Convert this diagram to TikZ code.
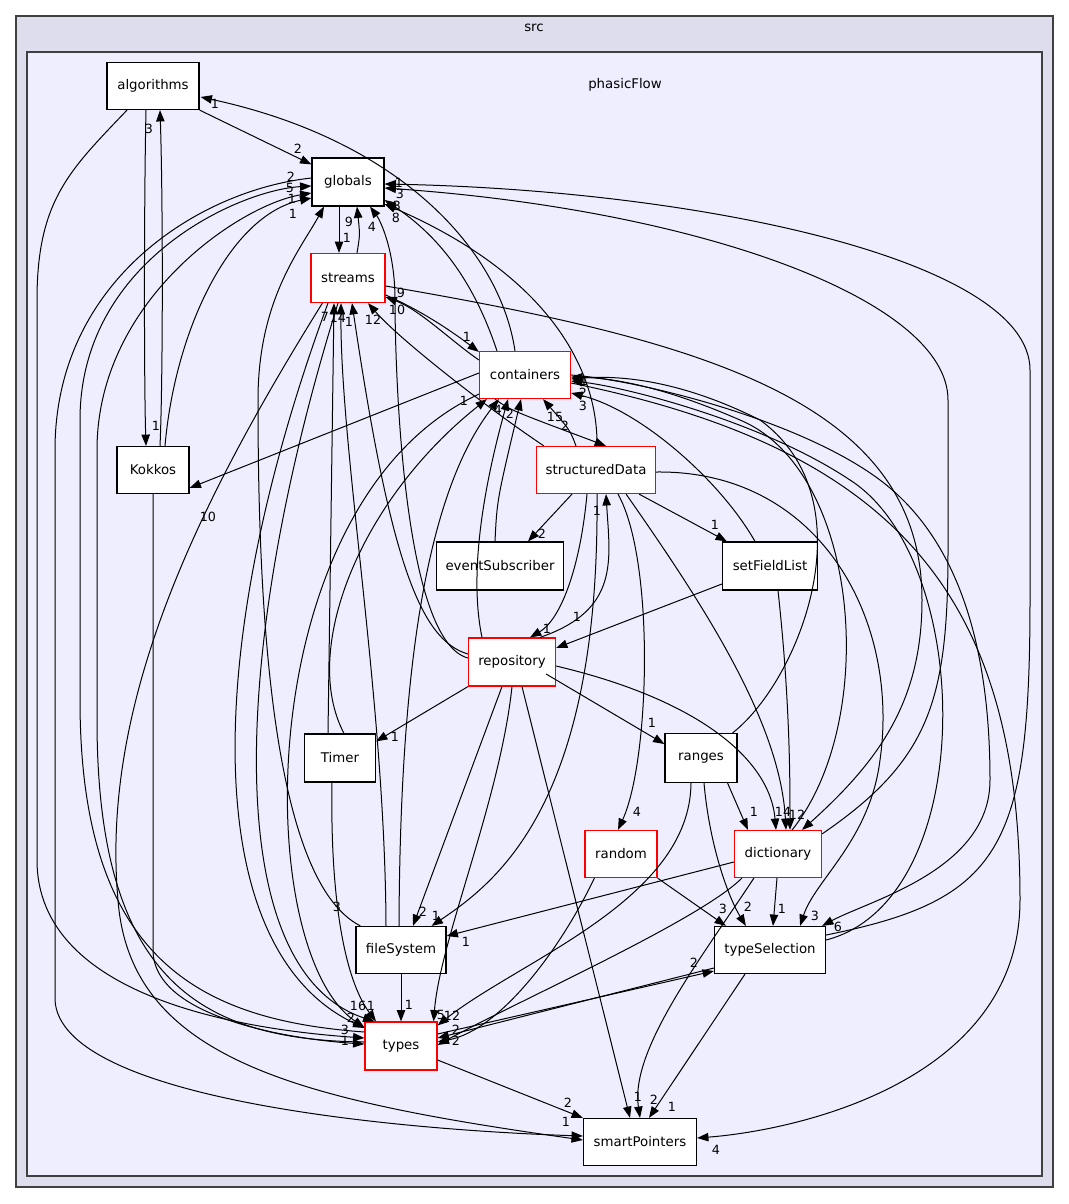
\documentclass[tikz,border=0pt]{standalone}
\usepackage{fontspec}
\setmainfont{DejaVu Sans}
\usetikzlibrary{arrows.meta,calc}
\definecolor{srcfill}{HTML}{DDDDEE}
\definecolor{pffill}{HTML}{EEEEFF}
\definecolor{bord}{HTML}{404040}
\tikzset{
  dirbox/.style={draw=black,fill=white,line width=0.9pt,inner sep=0pt,font=\fontsize{10}{12}\selectfont},
  redbox/.style={dirbox,draw=red},
  wh/.style 2 args={minimum width=0.75*#1 pt,minimum height=0.75*#2 pt},
  e/.style={draw=black,line width=0.75pt,-{Triangle[length=8.5pt,width=6.3pt]}},
  lbl/.style={font=\fontsize{9.5}{11}\selectfont,inner sep=0pt},
}
\begin{document}
\begin{tikzpicture}[x=0.75pt,y=-0.75pt]
\useasboundingbox (0,0) rectangle (1069,1204);
\fill[white] (0,0) rectangle (1069,1204);
\draw[fill=srcfill,draw=bord,line width=1.2pt] (16,16) rectangle (1053,1187);
\node[font=\fontsize{10}{12}\selectfont] (srclbl) at (534,28) {src};
\draw[fill=pffill,draw=bord,line width=1.2pt] (27,52) rectangle (1042,1176);
\node[font=\fontsize{10}{12}\selectfont] (pflbl) at (625,85) {phasicFlow};
% nodes
\node[dirbox,wh={92}{47}] (alg) at (153,86) {algorithms};
\node[dirbox,wh={72}{48}] (glob) at (348,182) {globals};
\node[redbox,wh={74}{49}] (strm) at (348,278) {streams};
\node[redbox,wh={91}{47}] (cont) at (525,375) {containers};
\node[redbox,wh={119}{47}] (sdat) at (596,470) {structuredData};
\node[dirbox,wh={127}{48}] (evt) at (500,566) {eventSubscriber};
\node[dirbox,wh={95}{48}] (sfl) at (770,566) {setFieldList};
\node[redbox,wh={87}{48}] (repo) at (512,662) {repository};
\node[dirbox,wh={72}{47}] (kok) at (153,470) {Kokkos};
\node[dirbox,wh={71}{48}] (timer) at (340,758) {Timer};
\node[dirbox,wh={72}{49}] (ranges) at (701,758) {ranges};
\node[redbox,wh={72}{47}] (random) at (621,854) {random};
\node[redbox,wh={87}{47}] (dict) at (778,854) {dictionary};
\node[dirbox,wh={90}{47}] (fs) at (401,950) {fileSystem};
\node[dirbox,wh={111}{47}] (tsel) at (770,950) {typeSelection};
\node[redbox,wh={72}{48}] (types) at (401,1046) {types};
\node[dirbox,wh={113}{47}] (sp) at (640,1142) {smartPointers};
% edges
\draw[e] (alg.south east) -- ($(glob.north west)+(0,7)$);
\draw[e] ($(alg.south)+(-7,0)$) .. controls (144,200) and (144,380) .. ($(kok.north)+(-7,0)$);
\draw[e] ($(kok.north)+(7,0)$) .. controls (163,380) and (163,200) .. ($(alg.south)+(7,0)$);
\draw[e] ($(alg.south)+(-26,0)$) .. controls (70,170) and (37,200) .. (37,300) -- (37,860) .. controls (37,1000) and (250,1030) .. ($(types.west)+(0,-8)$);
\draw[e] ($(cont.north)+(-10,0)$) .. controls (500,250) and (400,140) .. ($(alg.east)+(1,11)$);
\draw[e] ($(glob.south)+(-9,0)$) -- ($(strm.north)+(-9,0)$);
\draw[e] ($(strm.north)+(9,0)$) .. controls (360,235) .. ($(glob.south)+(9,0)$);
\draw[e] ($(kok.north)+(12,0)$) .. controls (175,330) and (230,215) .. ($(glob.west)+(0,16)$);
\draw[e] ($(types.west)+(0,-14)$) .. controls (200,1020) and (80,960) .. (80,700) -- (80,420) .. controls (80,260) and (240,190) .. ($(glob.west)+(0,4)$);
\draw[e] ($(types.west)+(0,-4)$) .. controls (200,1040) and (97,980) .. (97,720) -- (97,450) .. controls (97,300) and (240,205) .. ($(glob.west)+(0,11)$);
\draw[e] ($(fs.north west)+(5,0)$) .. controls (270,880) and (258,600) .. (258,400) .. controls (258,300) and (300,250) .. ($(glob.south)+(-24,0)$);
\draw[e] ($(repo.west)+(0,-4)$) .. controls (400,640) and (395,350) .. (395,300) .. controls (395,250) and (380,220) .. ($(glob.south)+(22,0)$);
\draw[e] ($(tsel.east)+(0,-15)$) .. controls (1000,900) and (1030,850) .. (1030,600) -- (1030,370) .. controls (1030,260) and (700,190) .. ($(glob.east)+(0,2)$);
\draw[e] ($(dict.north east)+(0,4)$) .. controls (930,760) and (948,700) .. (948,550) -- (948,400) .. controls (948,300) and (700,210) .. ($(glob.east)+(0,6)$);
\draw[e] ($(cont.north)+(-28,0)$) .. controls (470,270) and (430,230) .. ($(glob.east)+(0,18)$);
\draw[e] ($(sdat.north)+(1,0)$) .. controls (598,380) and (560,280) .. ($(glob.east)+(0,22)$);
\draw[e] ($(strm.east)+(0,17)$) .. controls (420,310) and (450,330) .. ($(cont.north west)+(0,1)$);
\draw[e] ($(cont.west)+(0,-15)$) .. controls (450,340) and (420,310) .. ($(strm.east)+(0,19)$);
\draw[e] ($(sdat.north west)+(8,0)$) .. controls (490,410) and (400,340) .. ($(strm.south)+(20,0)$);
\draw[e] ($(cont.west)+(0,-2)$) -- ($(kok.east)+(0,18)$);
\draw[e] ($(sfl.north)+(-15,0)$) .. controls (720,480) and (640,410) .. ($(cont.east)+(0,18)$);
\draw[e] ($(ranges.north east)+(-5,0)$) .. controls (800,680) and (870,500) .. (760,420) .. controls (680,380) and (620,375) .. ($(cont.east)+(0,4)$);
\draw[e] ($(dict.north east)+(-30,0)$) .. controls (880,720) and (860,470) .. (740,420) .. controls (660,385) and (610,378) .. ($(cont.east)+(0,2)$);
\draw[e] ($(tsel.east)+(0,-10)$) .. controls (980,900) and (975,560) .. (850,480) .. controls (760,420) and (620,386) .. ($(cont.east)+(0,6)$);
\draw[e] ($(cont.east)+(0,0)$) .. controls (640,380) and (800,420) .. (880,480) .. controls (960,540) and (990,650) .. (990,780) .. controls (990,870) and (870,900) .. ($(tsel.north east)+(-4,0)$);
\draw[e] ($(strm.east)+(0,8)$) .. controls (700,340) and (922,400) .. (922,600) .. controls (922,700) and (880,760) .. ($(dict.north east)+(-20,0)$);
\draw[e] ($(cont.south)+(-30,0)$) .. controls (510,410) .. ($(sdat.north)+(10,0)$);
\draw[e] ($(sdat.north)+(-20,0)$) .. controls (570,430) .. ($(cont.south)+(18,0)$);
\draw[e] ($(evt.north)+(-5,0)$) .. controls (497,500) .. ($(cont.south)+(-4,0)$);
\draw[e] ($(sdat.south)+(-24,0)$) -- ($(evt.north)+(28,0)$);
\draw[e] ($(sdat.south east)+(-17,0)$) -- ($(sfl.north west)+(5,0)$);
\draw[e] ($(sdat.south)+(-9,0)$) .. controls (580,570) and (560,620) .. ($(repo.north)+(18,0)$);
\draw[e] ($(repo.north)+(28,0)$) .. controls (620,610) and (610,560) .. ($(sdat.south)+(10,0)$);
\draw[e] ($(sfl.west)+(0,18)$) -- ($(repo.east)+(0,-14)$);
\draw[e] ($(repo.west)+(0,-8)$) .. controls (420,640) and (390,560) .. ($(strm.south)+(4,0)$);
\draw[e] ($(repo.north)+(-30,0)$) .. controls (470,580) and (480,500) .. ($(cont.south)+(-17,0)$);
\draw[e] ($(repo.south west)+(0,0)$) -- ($(timer.north east)+(0,8)$);
\draw[e] ($(repo.east)+(-10,12)$) -- ($(ranges.west)+(0,-14)$);
\draw[e] ($(repo.east)+(0,4)$) .. controls (700,700) and (770,760) .. ($(dict.north)+(-2,0)$);
\draw[e] ($(repo.south)+(-10,0)$) -- ($(fs.north)+(12,0)$);
\draw[e] ($(repo.south)+(0,0)$) .. controls (500,800) and (440,940) .. ($(types.north east)+(-4,0)$);
\draw[e] ($(repo.south)+(10,0)$) -- ($(sp.north)+(-10,0)$);
\draw[e] ($(timer.north)+(-12,0)$) -- ($(strm.south)+(-14,0)$);
\draw[e] ($(timer.north)+(4,0)$) .. controls (300,650) and (360,500) .. ($(cont.south west)+(8,0)$);
\draw[e] ($(timer.south)+(-8,0)$) .. controls (330,900) and (345,980) .. ($(types.north)+(-25,0)$);
\draw[e] ($(fs.north)+(-15,0)$) .. controls (385,700) and (340,450) .. ($(strm.south)+(-7,0)$);
\draw[e] ($(fs.north)+(-2,0)$) .. controls (400,700) and (420,500) .. ($(cont.south west)+(20,0)$);
\draw[e] (fs) -- (types);
\draw[e] ($(sdat.south)+(1,0)$) .. controls (600,800) and (500,880) .. ($(fs.north east)+(-15,0)$);
\draw[e] ($(sdat.south)+(22,0)$) .. controls (655,560) and (650,760) .. ($(random.north)+(-3,0)$);
\draw[e] ($(sdat.south east)+(-30,0)$) .. controls (700,600) and (780,720) .. ($(dict.north)+(8,0)$);
\draw[e] ($(sdat.east)+(0,2)$) .. controls (820,470) and (900,620) .. (880,760) .. controls (870,840) and (815,880) .. ($(tsel.north east)+(-26,0)$);
\draw[e] ($(sfl.south)+(8,0)$) .. controls (790,700) and (790,780) .. ($(dict.north)+(12,0)$);
\draw[e] ($(ranges.south east)+(-10,0)$) -- ($(dict.north west)+(14,0)$);
\draw[e] ($(ranges.south)+(3,0)$) .. controls (710,850) and (730,900) .. ($(tsel.north west)+(32,0)$);
\draw[e] ($(ranges.south)+(-10,0)$) .. controls (690,900) and (520,960) .. ($(types.north east)+(0,4)$);
\draw[e] ($(random.south east)+(0,0)$) -- ($(tsel.north west)+(12,0)$);
\draw[e] ($(random.south west)+(10,0)$) .. controls (560,950) and (500,1030) .. ($(types.east)+(0,-4)$);
\draw[e] ($(dict.south)+(-1,0)$) -- ($(tsel.north)+(3,0)$);
\draw[e] ($(dict.west)+(0,8)$) -- ($(fs.east)+(0,-14)$);
\draw[e] ($(dict.south west)+(8,0)$) .. controls (700,920) and (520,1000) .. ($(types.east)+(0,-1)$);
\draw[e] ($(dict.south west)+(20,0)$) .. controls (700,960) and (630,1050) .. ($(sp.north)+(0,0)$);
\draw[e] ($(tsel.west)+(0,18)$) -- ($(types.east)+(0,-8)$);
\draw[e] ($(types.east)+(0,-12)$) -- ($(tsel.west)+(0,21)$);
\draw[e] ($(tsel.south)+(-25,0)$) -- ($(sp.north)+(9,0)$);
\draw[e] ($(types.east)+(0,14)$) -- (sp.north west);
\draw[e] ($(cont.east)+(0,8)$) .. controls (900,450) and (1020,600) .. (1020,900) .. controls (1020,1080) and (800,1130) .. ($(sp.east)+(0,-4)$);
\draw[e] ($(cont.south west)+(0,-5)$) .. controls (250,500) and (250,950) .. ($(types.north west)+(0,6)$);
\draw[e] ($(strm.south west)+(12,0)$) .. controls (200,500) and (100,700) .. (118,900) .. controls (130,1060) and (300,1100) .. ($(sp.west)+(0,-2)$);
\draw[e] ($(strm.south)+(-20,0)$) .. controls (200,650) and (200,950) .. ($(types.west)+(0,-18)$);
\draw[e] ($(strm.south)+(-10,0)$) .. controls (230,650) and (220,970) .. ($(types.north west)+(10,0)$);
\draw[e] ($(kok.south)+(0,0)$) -- (153,950) .. controls (153,1020) and (300,1040) .. ($(types.west)+(0,-2)$);
\draw[e] ($(glob.west)+(0,-4)$) .. controls (200,190) and (55,280) .. (55,450) -- (55,1000) .. controls (60,1100) and (400,1130) .. ($(sp.west)+(0,-6)$);
% labels
\node[lbl] (l1) at (298,149) {2};
\node[lbl] (l2) at (156,426) {1};
\node[lbl] (l3) at (149,129) {3};
\node[lbl] (l4) at (215,104) {1};
\node[lbl] (l5) at (347,238) {1};
\node[lbl] (l6) at (349,222) {9};
\node[lbl] (l7) at (291,177) {2};
\node[lbl] (l8) at (290,188) {5};
\node[lbl] (l9) at (292,199) {1};
\node[lbl] (l10) at (293,214) {1};
\node[lbl] (l11) at (372,227) {4};
\node[lbl] (l12) at (399,183) {1};
\node[lbl] (l13) at (400,194) {3};
\node[lbl] (l14) at (396,218) {8};
\node[lbl] (l15) at (397,206) {3};
\node[lbl] (l16) at (401,293) {9};
\node[lbl] (l17) at (397,310) {10};
\node[lbl] (l18) at (467,337) {1};
\node[lbl] (l19) at (325,317) {7};
\node[lbl] (l20) at (338,318) {14};
\node[lbl] (l21) at (349,322) {1};
\node[lbl] (l22) at (373,320) {12};
\node[lbl] (l23) at (464,401) {1};
\node[lbl] (l24) at (498,410) {4};
\node[lbl] (l25) at (510,414) {2};
\node[lbl] (l26) at (555,417) {15};
\node[lbl] (l27) at (565,426) {2};
\node[lbl] (l28) at (584,381) {1};
\node[lbl] (l29) at (583,393) {2};
\node[lbl] (l30) at (583,406) {3};
\node[lbl] (l31) at (208,517) {10};
\node[lbl] (l32) at (542,534) {2};
\node[lbl] (l33) at (715,525) {1};
\node[lbl] (l34) at (597,511) {1};
\node[lbl] (l35) at (547,629) {1};
\node[lbl] (l36) at (577,617) {1};
\node[lbl] (l37) at (395,737) {1};
\node[lbl] (l38) at (652,723) {1};
\node[lbl] (l39) at (754,812) {1};
\node[lbl] (l40) at (783,812) {14};
\node[lbl] (l41) at (797,815) {12};
\node[lbl] (l42) at (637,812) {4};
\node[lbl] (l43) at (337,907) {3};
\node[lbl] (l44) at (423,912) {2};
\node[lbl] (l45) at (436,916) {1};
\node[lbl] (l46) at (466,942) {1};
\node[lbl] (l47) at (723,909) {3};
\node[lbl] (l48) at (748,907) {2};
\node[lbl] (l49) at (782,909) {1};
\node[lbl] (l50) at (815,916) {3};
\node[lbl] (l51) at (838,927) {6};
\node[lbl] (l52) at (694,963) {2};
\node[lbl] (l53) at (409,1005) {1};
\node[lbl] (l54) at (358,1006) {16};
\node[lbl] (l55) at (371,1006) {1};
\node[lbl] (l56) at (351,1018) {2};
\node[lbl] (l57) at (345,1030) {3};
\node[lbl] (l58) at (345,1041) {1};
\node[lbl] (l59) at (441,1015) {5};
\node[lbl] (l60) at (452,1016) {12};
\node[lbl] (l61) at (456,1030) {2};
\node[lbl] (l62) at (456,1041) {2};
\node[lbl] (l63) at (568,1103) {2};
\node[lbl] (l64) at (566,1122) {1};
\node[lbl] (l65) at (638,1097) {1};
\node[lbl] (l66) at (654,1100) {2};
\node[lbl] (l67) at (672,1107) {1};
\node[lbl] (l68) at (716,1150) {4};
\end{tikzpicture}
\end{document}
